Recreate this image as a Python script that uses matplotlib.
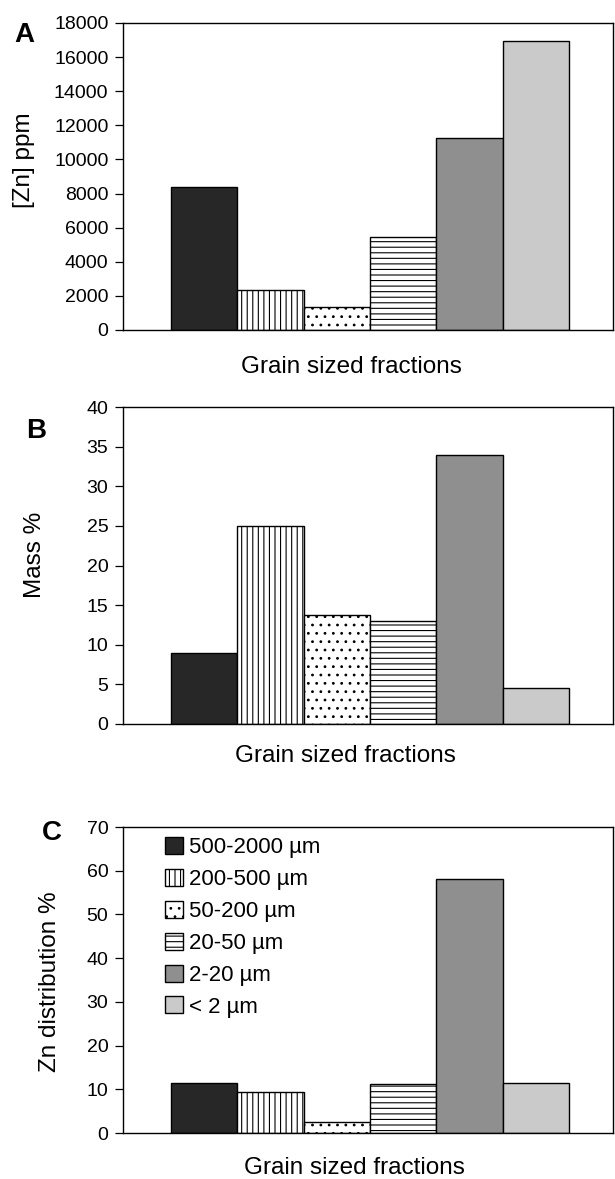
import numpy as np
import matplotlib
matplotlib.use("Agg")
import matplotlib.pyplot as plt

plt.rcParams.update({
    "font.family": ["Liberation Sans", "DejaVu Sans"],
    "hatch.linewidth": 0.8, "hatch.color": "black",
    "axes.linewidth": 1.0,
})

# data
fractions = ["500-2000 µm", "200-500 µm", "50-200 µm", "20-50 µm", "2-20 µm", "< 2 µm"]
zn_ppm = [8400, 2330, 1360, 5480, 11230, 16970]
mass_pct = [9.0, 25.0, 13.7, 13.0, 34.0, 4.55]
zn_dist = [11.5, 9.3, 2.5, 11.1, 58.0, 11.4]

faces = ["#272727", "white", "white", "white", "#8f8f8f", "#cacaca"]
hatches = ["", "|||", "..", "---", "", ""]

W, H = 615, 1179
fig = plt.figure(figsize=(W/100, H/100), dpi=100)

def px_ax(top, bottom, left=123, right=613):
    return fig.add_axes([left/W, 1-bottom/H, (right-left)/W, (bottom-top)/H])

def panel(ax, vals, ymax, step):
    x = np.arange(len(vals))
    bars = ax.bar(x, vals, width=1.0, color=faces, edgecolor="black", linewidth=1.0)
    for b, h in zip(bars, hatches):
        b.set_hatch(h)
    ax.set_xlim(-1.224, 6.164)
    ax.set_ylim(0, ymax)
    ax.set_yticks(np.arange(0, ymax+step/2, step))
    ax.set_xticks([])
    ax.tick_params(axis="y", direction="out", length=5.5, width=0.9, labelsize=14, pad=5)
    return bars

axA = px_ax(23, 330)
panel(axA, zn_ppm, 18000, 2000)
axB = px_ax(407, 724)
panel(axB, mass_pct, 40, 5)
axC = px_ax(827, 1133)
bars = panel(axC, zn_dist, 70, 10)

leg = axC.legend(bars, fractions, loc="upper left",
                 bbox_to_anchor=((165-123)/490, (1133-837)/306),
                 frameon=False, borderpad=0, borderaxespad=0,
                 handlelength=0.8, handleheight=0.8, handletextpad=0.3,
                 labelspacing=0.48, fontsize=16)

def ftext(px, py, s, **kw):
    fig.text(px/W, 1-py/H, s, ha="center", va="center", **kw)

# x labels
ftext(351, 367, "Grain sized fractions", fontsize=17.5)
ftext(345, 756, "Grain sized fractions", fontsize=17.5)
ftext(354, 1168, "Grain sized fractions", fontsize=17.5)
# y labels
ftext(24, 160, "[Zn] ppm", fontsize=17.5, rotation=90)
ftext(35, 555, "Mass %", fontsize=17.5, rotation=90)
ftext(50, 982, "Zn distribution %", fontsize=17.5, rotation=90)
# panel letters
ftext(24, 35, "A", fontsize=20, fontweight="bold")
ftext(36, 431, "B", fontsize=20, fontweight="bold")
ftext(52, 833, "C", fontsize=20, fontweight="bold")

fig.savefig("out.png", dpi=100, facecolor="white")
